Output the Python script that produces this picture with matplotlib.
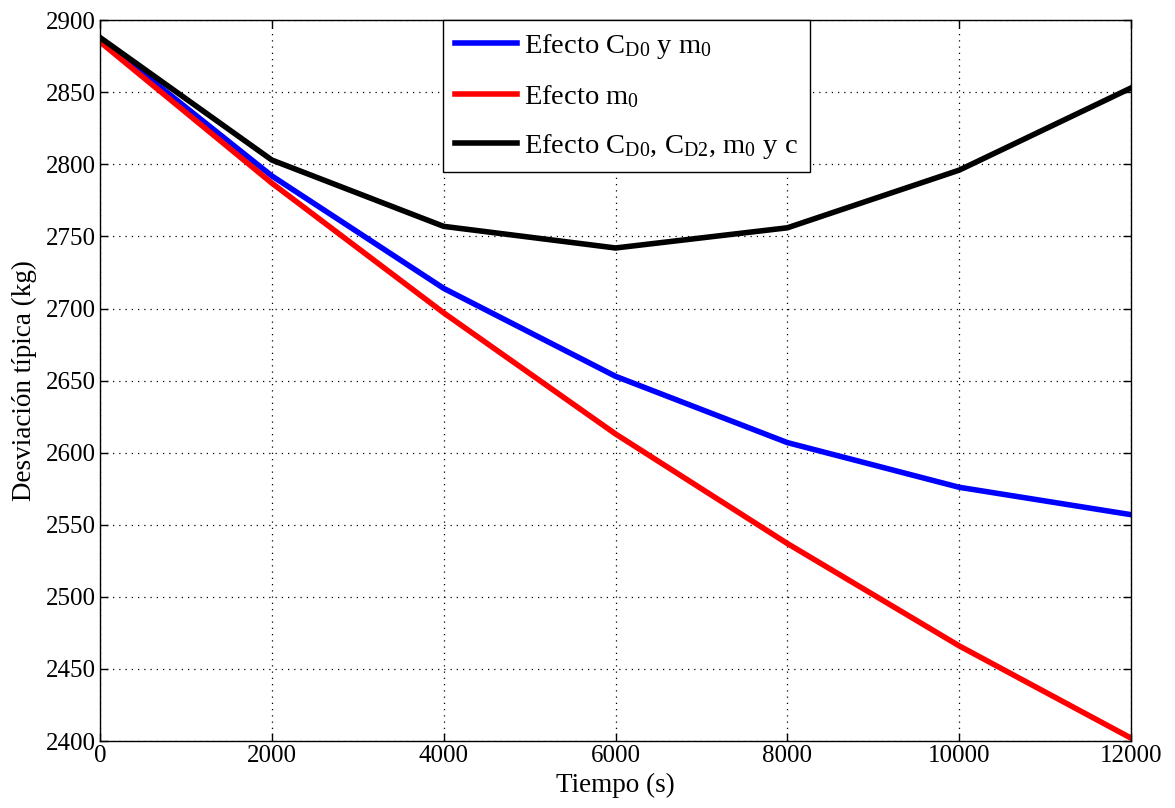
import matplotlib
matplotlib.use("Agg")
import matplotlib.pyplot as plt

plt.rcParams['font.family'] = ['Liberation Serif', 'DejaVu Serif']
plt.rcParams['mathtext.fontset'] = 'custom'
plt.rcParams['mathtext.rm'] = 'Liberation Serif'
plt.rcParams['mathtext.it'] = 'Liberation Serif'

tiempo = [0, 2000, 4000, 6000, 8000, 10000, 12000]
efecto_cd0_m0 = [2887, 2792, 2714, 2653, 2607, 2576, 2557]
efecto_m0 = [2885, 2787, 2697, 2613, 2537, 2466, 2402]
efecto_todos = [2888, 2803, 2757, 2742, 2756, 2796, 2853]

labels = [r'Efecto C$_{\mathrm{D0}}$ y m$_0$',
          r'Efecto m$_0$',
          r'Efecto C$_{\mathrm{D0}}$, C$_{\mathrm{D2}}$, m$_0$ y c']

fig = plt.figure(figsize=(11.75, 8.08), dpi=100)
ax = fig.add_axes([0.0851, 0.0829, 0.8775, 0.8921])

ax.plot(tiempo, efecto_cd0_m0, color='#0000ff', lw=4, label=labels[0])
ax.plot(tiempo, efecto_m0, color='#ff0000', lw=4, label=labels[1])
ax.plot(tiempo, efecto_todos, color='black', lw=4, label=labels[2])

ax.set_xlim(0, 12000)
ax.set_ylim(2400, 2900)
ax.set_xticks(range(0, 12001, 2000))
ax.set_yticks(range(2400, 2901, 50))
ax.grid(True, color='black', linestyle=(0, (1, 4)), linewidth=0.9)
ax.tick_params(direction='in', top=True, right=True, labelsize=18, length=6, width=1, pad=3)
for s in ax.spines.values():
    s.set_linewidth(1.0)

ax.set_xlabel('Tiempo (s)', fontsize=19.5, labelpad=4)
ax.set_ylabel('Desviación típica (kg)', fontsize=19.5, labelpad=6)

leg = ax.legend(loc='upper left', bbox_to_anchor=(0.333, 1.0), borderaxespad=0,
                fontsize=20.5, fancybox=False, edgecolor='black', framealpha=1,
                handlelength=2.2, handletextpad=0.25, labelspacing=0.78,
                borderpad=0.4)
leg.get_frame().set_linewidth(1.0)

fig.savefig('out.png', dpi=100)
